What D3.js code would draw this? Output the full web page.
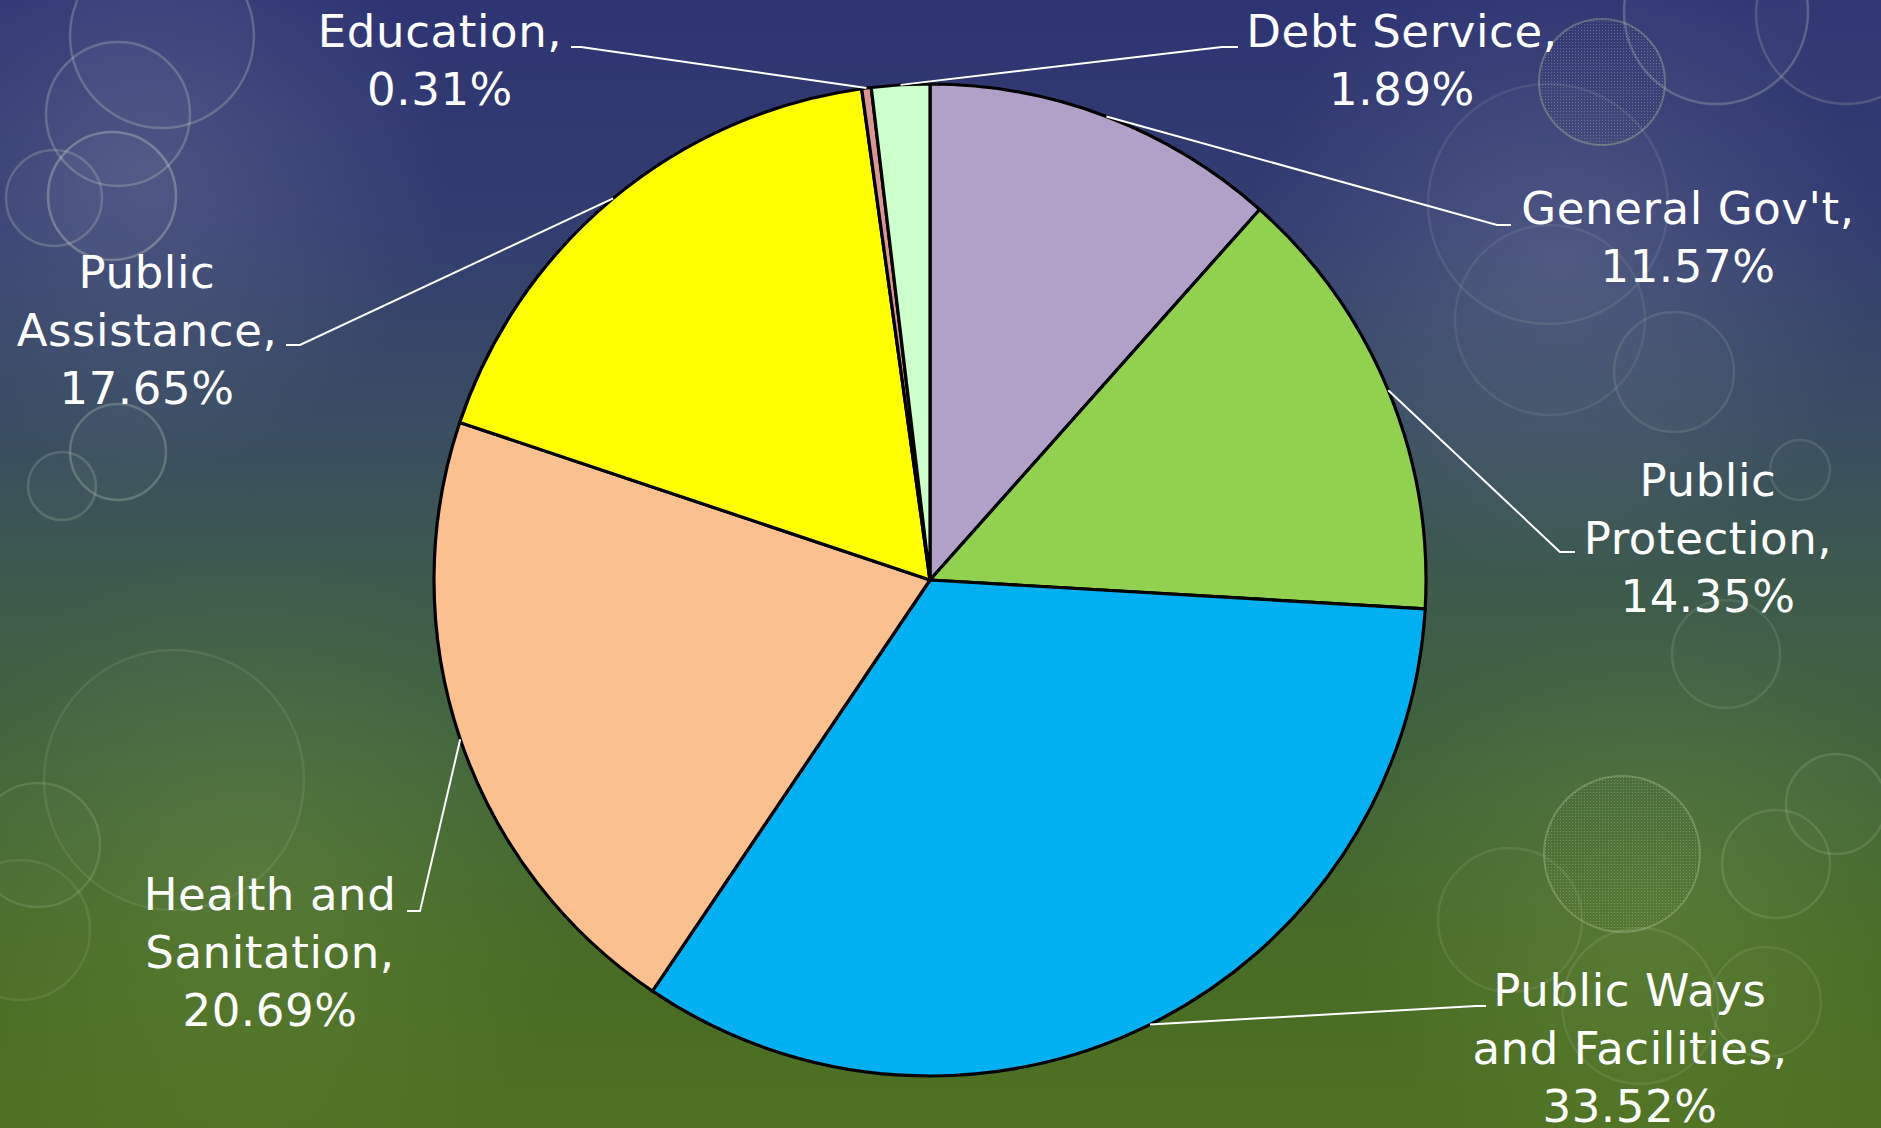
<!DOCTYPE html>
<html>
<head>
<meta charset="utf-8">
<script src="https://cdn.jsdelivr.net/npm/d3@7"></script>
<style>
  html, body { margin: 0; padding: 0; background: #2f3573; }
  svg { display: block; }
</style>
</head>
<body>
<script>
// ---- data ----
const categories = ["General Gov't", "Public Protection", "Public Ways and Facilities",
  "Health and Sanitation", "Public Assistance", "Education", "Debt Service"];
const values = [11.57, 14.35, 33.52, 20.69, 17.65, 0.31, 1.89];
const labelNameLines = [
  ["General Gov't,"],
  ["Public", "Protection,"],
  ["Public Ways", "and Facilities,"],
  ["Health and", "Sanitation,"],
  ["Public", "Assistance,"],
  ["Education,"],
  ["Debt Service,"]
];
const colors = ["#B1A0C7", "#92D050", "#00B0F0", "#FAC090", "#FFFF00", "#D99694", "#CCFFCC"];

// ---- layout (not data) ----
const W = 1881, H = 1128;
const cx = 930, cy = 580, R = 496;
const lineH = 58;
// label block: center x, first baseline, elbow point, horizontal end
const labelLayout = [
  { x: 1688, y: 224, ex: 1497, ey: 225, hx: 1511 },
  { x: 1708, y: 496, ex: 1560, ey: 552, hx: 1575 },
  { x: 1630, y: 1006, ex: 1476, ey: 1006, hx: 1486 },
  { x: 270, y: 910, ex: 420, ey: 911, hx: 407 },
  { x: 147, y: 288, ex: 300, ey: 345, hx: 286 },
  { x: 440, y: 47, ex: 581, ey: 47, hx: 571 },
  { x: 1402, y: 47, ex: 1222, ey: 47, hx: 1238 }
];
// decorative bokeh circles [x, y, r, opacity]
const bokeh = [
  [162, 36, 92, 0.16], [118, 114, 72, 0.16], [112, 196, 64, 0.2], [54, 198, 48, 0.14],
  [118, 452, 48, 0.16], [62, 486, 34, 0.12], [174, 780, 130, 0.07], [38, 845, 62, 0.1],
  [20, 930, 70, 0.07],
  [1716, 12, 92, 0.16], [1846, 14, 90, 0.12], [1548, 204, 120, 0.07], [1550, 320, 95, 0.06],
  [1674, 372, 60, 0.08], [1800, 470, 30, 0.09], [1726, 654, 54, 0.08],
  [1836, 804, 50, 0.1], [1776, 864, 54, 0.09], [1510, 920, 72, 0.07], [1640, 1006, 78, 0.07],
  [1766, 1002, 55, 0.07]
];
const texturedBokeh = [[1602, 82, 63], [1622, 854, 78]];

const svg = d3.select("body").append("svg")
  .attr("width", W).attr("height", H)
  .attr("viewBox", `0 0 ${W} ${H}`);

const defs = svg.append("defs");
const bg = defs.append("linearGradient").attr("id", "bg")
  .attr("x1", 0).attr("y1", 0).attr("x2", 0).attr("y2", 1);
[[0, "#2e3472"], [0.2, "#333d70"], [0.38, "#3a4d62"], [0.52, "#3d5a4c"],
 [0.68, "#42653a"], [0.84, "#486b26"], [1, "#4e7122"]]
  .forEach(([o, c]) => bg.append("stop").attr("offset", o).attr("stop-color", c));

const glow = defs.append("radialGradient").attr("id", "glow");
glow.append("stop").attr("offset", 0).attr("stop-color", "#ffffff").attr("stop-opacity", 0.12);
glow.append("stop").attr("offset", 1).attr("stop-color", "#ffffff").attr("stop-opacity", 0);

const glowG = defs.append("radialGradient").attr("id", "glowG");
glowG.append("stop").attr("offset", 0).attr("stop-color", "#8fb060").attr("stop-opacity", 0.22);
glowG.append("stop").attr("offset", 1).attr("stop-color", "#8fb060").attr("stop-opacity", 0);

const pat = defs.append("pattern").attr("id", "dots")
  .attr("width", 3).attr("height", 3).attr("patternUnits", "userSpaceOnUse");
pat.append("rect").attr("width", 1).attr("height", 1).attr("fill", "#c8d4b0").attr("opacity", 0.3);

svg.append("rect").attr("width", W).attr("height", H).attr("fill", "url(#bg)");
// glows
[[150, 170, 300], [1560, 260, 320], [250, 880, 330], [1650, 900, 300]]
  .forEach(([x, y, r], i) => svg.append("circle").attr("cx", x).attr("cy", y).attr("r", r)
    .attr("fill", i >= 2 ? "url(#glowG)" : "url(#glow)"));

svg.append("g").selectAll("circle").data(bokeh).join("circle")
  .attr("cx", d => d[0]).attr("cy", d => d[1]).attr("r", d => d[2])
  .attr("fill", "#ffffff").attr("fill-opacity", d => d[3] * 0.15)
  .attr("stroke", "#dfe6cf").attr("stroke-opacity", d => d[3] * 1.5).attr("stroke-width", 2.5);

svg.append("g").selectAll("circle").data(texturedBokeh).join("circle")
  .attr("cx", d => d[0]).attr("cy", d => d[1]).attr("r", d => d[2])
  .attr("fill", "url(#dots)")
  .attr("stroke", "#b9c79a").attr("stroke-opacity", 0.35).attr("stroke-width", 2);

// ---- pie ----
const pie = d3.pie().sort(null).value(d => d).startAngle(0).endAngle(2 * Math.PI);
const arcs = pie(values);
const arc = d3.arc().innerRadius(0).outerRadius(R);

const g = svg.append("g").attr("transform", `translate(${cx},${cy})`);
g.selectAll("path").data(arcs).join("path")
  .attr("d", arc)
  .attr("fill", (d, i) => colors[i])
  .attr("stroke", "#000").attr("stroke-width", 3.2).attr("stroke-linejoin", "round");

// ---- leader lines ----
const fmt = d3.format(".2f");
const leaders = svg.append("g");
arcs.forEach((a, i) => {
  const mid = (a.startAngle + a.endAngle) / 2;
  const px = cx + R * Math.sin(mid), py = cy - R * Math.cos(mid);
  const L = labelLayout[i];
  leaders.append("polyline")
    .attr("points", `${px},${py} ${L.ex},${L.ey} ${L.hx},${L.ey}`)
    .attr("fill", "none").attr("stroke", "#ffffff").attr("stroke-width", 2);
});

// ---- labels ----
const labels = svg.append("g")
  .attr("font-family", "'DejaVu Sans', Verdana, sans-serif")
  .attr("font-size", 45).attr("fill", "#ffffff")
  .attr("letter-spacing", 0.6)
  .attr("text-anchor", "middle");
arcs.forEach((a, i) => {
  const L = labelLayout[i];
  const lines = labelNameLines[i].concat([fmt(values[i]) + "%"]);
  const t = labels.append("text").attr("x", L.x).attr("y", L.y);
  lines.forEach((ln, j) => {
    t.append("tspan").attr("x", L.x).attr("y", L.y + j * lineH).text(ln);
  });
});
</script>
</body>
</html>
